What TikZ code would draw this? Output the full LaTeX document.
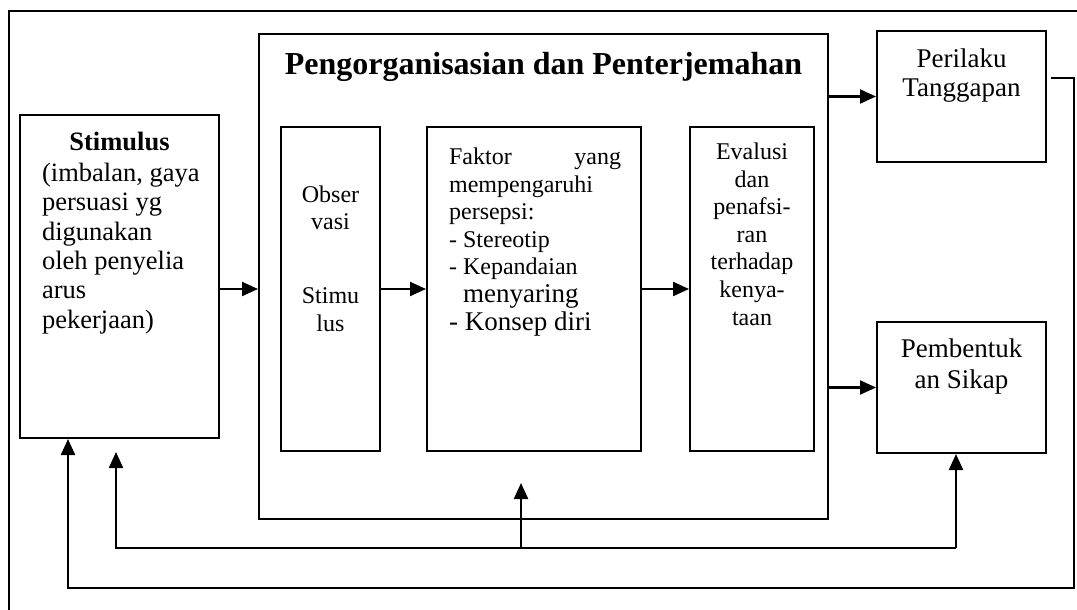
\documentclass[tikz,border=0pt]{standalone}
\usepackage{fontspec}
\setmainfont{Liberation Serif}
\usetikzlibrary{arrows.meta,positioning}

\tikzset{
  box/.style={draw, rectangle, line width=2pt, inner sep=0pt},
  txt/.style={inner sep=0pt, font=\fontsize{24}{27.6}\selectfont},
  txtbig/.style={inner sep=0pt, font=\fontsize{27}{30}\selectfont},
}
\newcommand{\bigtxt}{\fontsize{27}{30}\selectfont}

\begin{document}
\begin{tikzpicture}[x=1pt, y=-1pt, line width=2.2pt,
    >={Triangle[length=16pt,width=14pt]}]
  \useasboundingbox (0,0) rectangle (1077,610);
  \draw (9,610) |- (1077,11);

  \node (stim)  [box, minimum width=199pt, minimum height=323pt] at (119.5,276.5) {};
  \node (org)   [box, minimum width=569pt, minimum height=485pt] at (543.5,276.5) {};
  \node (obs)   [box, minimum width=99pt,  minimum height=324pt] at (330.5,289) {};
  \node (fak)   [box, minimum width=214pt, minimum height=324pt] at (534,289) {};
  \node (eval)  [box, minimum width=124pt, minimum height=324pt] at (752,289) {};
  \node (peri)  [box, minimum width=169pt, minimum height=131pt] at (961.5,96.5) {};
  \node (sikap) [box, minimum width=169pt, minimum height=131pt] at (961.5,387.5) {};

  % multi-line texts: base anchor sits on the last line
  \node (ttl)   [inner sep=0pt, anchor=base, font=\fontsize{32}{36}\selectfont\bfseries]
                at (org.north |- 0,75) {Pengorganisasian dan Penterjemahan};
  \node (stimh) [inner sep=0pt, anchor=base, font=\fontsize{26.5}{29.5}\selectfont\bfseries]
                at (stim.north |- 0,150) {Stimulus};
  \node (stimt) [inner sep=0pt, anchor=base west, align=left, font=\fontsize{26.5}{29.3}\selectfont]
                at (41,328) {(imbalan, gaya\\persuasi yg\\digunakan\\oleh penyelia\\arus\\pekerjaan)};
  \node (obst)  [txt, anchor=base, align=center] at (obs.north |- 0,331)
                {Obser\\vasi\\[46pt]Stimu\\lus};
  \node (fakt)  [txt, anchor=base west, align=left] at (448,330)
                {\makebox[172pt][s]{Faktor yang}\\mempengaruhi\\persepsi:\\- Stereotip\\- Kepandaian\\
                 {\bigtxt\hspace{14pt}menyaring}\\{\bigtxt - Konsep diri}};
  \node (evalt) [txt, anchor=base, align=center] at (eval.north |- 0,325)
                {Evalusi\\dan\\penafsi-\\ran\\terhadap\\kenya-\\taan};
  \node (perit) [txtbig, anchor=base, align=center, font=\fontsize{27}{29}\selectfont]
                at (peri.north |- 0,96) {Perilaku\\Tanggapan};
  \node (sikapt) [txtbig, anchor=base, align=center, font=\fontsize{27}{31}\selectfont]
                at (sikap.north |- 0,388) {Pembentuk\\an Sikap};

  \coordinate (r0) at (1051,78);
  \coordinate (r1) at (1074,588);
  \coordinate (b0) at (68,588);
  \coordinate (fr) at (956,548);
  \coordinate (fm) at (521,548);
  \coordinate (fa) at (116,452);
  \coordinate (fb) at (521,483);

  \draw [->] (stim.east |- obs) to (org.west |- obs);
  \draw [->] (obs)  to (fak);
  \draw [->] (fak)  to (eval);
  \draw [->] (org.east |- peri) to (peri);
  \draw [->] (org.east |- sikap) to (sikap);
  \draw [->] (fr) -| (fa);
  \draw [->] (fr) to (fr |- sikap.south);
  \draw [->] (fm) to (fb);
  \draw [->] (r0) -| (r1) -- (b0) -- (b0 |- stim.south);
\end{tikzpicture}
\end{document}
